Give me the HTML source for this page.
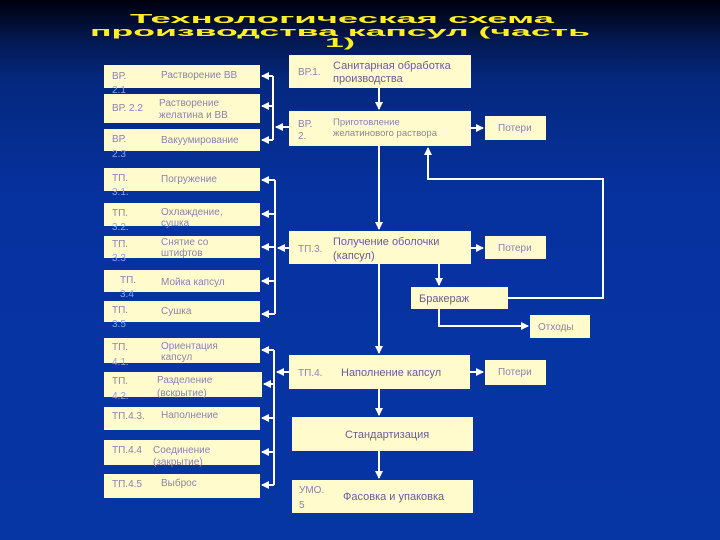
<!DOCTYPE html>
<html><head><meta charset="utf-8"><style>
html,body{margin:0;padding:0;width:720px;height:540px;overflow:hidden}
body{background:linear-gradient(180deg,#00000c 0px,#021850 40px,#05287e 80px,#0632a0 200px,#0636a4 540px)}
svg{display:block}
text{font-family:"Liberation Sans",sans-serif}
.b{fill:#fffbcc}
.t{fill:#8a82b4;font-size:10px}
.o{fill:#8ea2e8;font-size:10px}
.bt{fill:#6a5aa0;font-size:11px}
.l{stroke:#fff;stroke-width:2;fill:none}
</style></head><body>
<svg width="720" height="540" viewBox="0 0 720 540" xmlns="http://www.w3.org/2000/svg">
<defs><marker id="m" markerWidth="8" markerHeight="8" refX="7" refY="4" orient="auto" markerUnits="userSpaceOnUse"><path d="M0,0 L8,4 L0,8z" fill="#fff"/></marker></defs>
<g fill="#ffee22" font-weight="bold" font-size="13">
<text x="130" y="23" textLength="424" lengthAdjust="spacingAndGlyphs">Технологическая схема</text>
<text x="90" y="36" textLength="500" lengthAdjust="spacingAndGlyphs">производства капсул (часть</text>
<text x="325" y="47" textLength="30" lengthAdjust="spacingAndGlyphs">1)</text>
</g>
<g>
<rect class="b" x="104" y="65" width="156" height="23"/>
<rect class="b" x="104" y="94" width="156" height="29"/>
<rect class="b" x="104" y="129" width="156" height="22"/>
<rect class="b" x="104" y="168" width="156" height="23"/>
<rect class="b" x="104" y="203" width="156" height="23"/>
<rect class="b" x="104" y="236" width="156" height="22"/>
<rect class="b" x="104" y="270" width="156" height="22"/>
<rect class="b" x="104" y="301" width="156" height="21"/>
<rect class="b" x="104" y="338" width="156" height="25"/>
<rect class="b" x="104" y="372" width="158" height="25"/>
<rect class="b" x="104" y="407" width="156" height="23"/>
<rect class="b" x="104" y="440" width="156" height="25"/>
<rect class="b" x="104" y="474" width="156" height="24"/>
</g>
<g class="t">
<text x="112" y="79">ВР.</text><text x="161" y="78">Растворение ВВ</text>
<text x="112" y="111">ВР. 2.2</text><text x="159" y="106">Растворение</text><text x="159" y="118">желатина и ВВ</text>
<text x="112" y="142">ВР.</text><text x="161" y="143">Вакуумирование</text>
<text x="112" y="181">ТП.</text><text x="161" y="182">Погружение</text>
<text x="112" y="216">ТП.</text><text x="161" y="215">Охлаждение,</text><text x="161" y="226">сушка</text>
<text x="112" y="247">ТП.</text><text x="161" y="245">Снятие со</text><text x="161" y="256">штифтов</text>
<text x="120" y="283">ТП.</text><text x="161" y="285">Мойка капсул</text>
<text x="112" y="313">ТП.</text><text x="161" y="314">Сушка</text>
<text x="112" y="350">ТП.</text><text x="161" y="349">Ориентация</text><text x="161" y="360">капсул</text>
<text x="112" y="384">ТП.</text><text x="157" y="383">Разделение</text><text x="157" y="396">(вскрытие)</text>
<text x="112" y="419">ТП.4.3.</text><text x="161" y="418">Наполнение</text>
<text x="112" y="453">ТП.4.4</text><text x="153" y="453">Соединение</text><text x="153" y="465">(закрытие)</text>
<text x="112" y="487">ТП.4.5</text><text x="161" y="486">Выброс</text>
</g>
<g class="o">
<text x="112" y="93">2.1</text><text x="112" y="157">2.3</text><text x="112" y="195">3.1.</text><text x="112" y="230">3.2.</text>
<text x="112" y="261">3.3</text><text x="120" y="297">3.4</text><text x="112" y="327">3.5</text><text x="112" y="365">4.1.</text><text x="112" y="399">4.2.</text>
</g>
<rect class="b" x="289" y="55" width="182" height="33"/>
<rect class="b" x="289" y="111" width="182" height="35"/>
<rect class="b" x="289" y="231" width="182" height="33"/>
<rect class="b" x="411" y="287" width="97" height="22"/>
<rect class="b" x="530" y="315" width="60" height="23"/>
<rect class="b" x="485" y="116" width="61" height="24"/>
<rect class="b" x="485" y="236" width="61" height="23"/>
<rect class="b" x="485" y="360" width="61" height="25"/>
<rect class="b" x="289" y="355" width="181" height="34"/>
<rect class="b" x="292" y="417" width="181" height="34"/>
<rect class="b" x="292" y="480" width="181" height="33"/>
<g class="t">
<text x="298" y="75">ВР.1.</text>
<text x="298" y="127">ВР.</text><text x="298" y="139">2.</text>
<text x="333" y="125" font-size="9.5">Приготовление</text><text x="333" y="136" font-size="9.5">желатинового раствора</text>
<text x="298" y="252">ТП.3.</text>
<text x="298" y="376">ТП.4.</text>
<text x="299" y="493">УМО.</text><text x="299" y="508">5</text>
<text x="498" y="131">Потери</text><text x="498" y="251">Потери</text><text x="498" y="375">Потери</text>
<text x="538" y="330">Отходы</text>
</g>
<g class="bt">
<text x="333" y="69">Санитарная обработка</text><text x="333" y="82">производства</text>
<text x="333" y="245">Получение оболочки</text><text x="333" y="259">(капсул)</text>
<text x="419" y="302">Бракераж</text>
<text x="341" y="376">Наполнение капсул</text>
<text x="345" y="438">Стандартизация</text>
<text x="343" y="500">Фасовка и упаковка</text>
</g>
<g class="l">
<path d="M379 88 V109" marker-end="url(#m)"/>
<path d="M379 146 V229" marker-end="url(#m)"/>
<path d="M379 264 V353" marker-end="url(#m)"/>
<path d="M379 389 V415" marker-end="url(#m)"/>
<path d="M379 451 V478" marker-end="url(#m)"/>
<path d="M471 128 H483" marker-end="url(#m)"/>
<path d="M471 248 H483" marker-end="url(#m)"/>
<path d="M470 372 H483" marker-end="url(#m)"/>
<path d="M439 264 V285" marker-end="url(#m)"/>
<path d="M439 309 V326 H528" marker-end="url(#m)"/>
<path d="M508 298 H603 V179 H428 V148" marker-end="url(#m)"/>
<path d="M289 127 H276" marker-end="url(#m)"/>
<path d="M273 76 V140"/>
<path d="M273 76 H262" marker-end="url(#m)"/><path d="M273 106 H262" marker-end="url(#m)"/><path d="M273 140 H262" marker-end="url(#m)"/>
<path d="M289 248 H278" marker-end="url(#m)"/>
<path d="M275 180 V314"/>
<path d="M275 180 H262" marker-end="url(#m)"/><path d="M275 214 H262" marker-end="url(#m)"/><path d="M275 247 H262" marker-end="url(#m)"/><path d="M275 281 H262" marker-end="url(#m)"/><path d="M275 314 H262" marker-end="url(#m)"/>
<path d="M289 372 H277" marker-end="url(#m)"/>
<path d="M274 350 V485"/>
<path d="M274 350 H262" marker-end="url(#m)"/><path d="M274 384 H264" marker-end="url(#m)"/><path d="M274 418 H262" marker-end="url(#m)"/><path d="M274 452 H262" marker-end="url(#m)"/><path d="M274 485 H262" marker-end="url(#m)"/>
</g>
</svg>
</body></html>
